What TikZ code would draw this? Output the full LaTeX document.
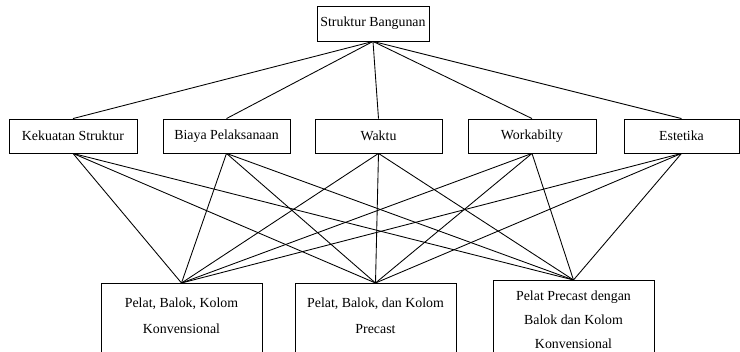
\documentclass[tikz,border=0pt]{standalone}
\usepackage{fontspec}
\setmainfont{Liberation Serif}

\begin{document}
\begin{tikzpicture}[x=0.75pt, y=-0.75pt,
    kriteria/.style={draw, line width=0.65pt, inner sep=0pt, minimum height=25.5pt, font=\fontsize{10.4}{12}\selectfont},
    alternatif/.style={draw, line width=0.65pt, inner sep=0pt, anchor=north, align=center, minimum width=120.75pt, font=\fontsize{10.4}{19.5}\selectfont},
    garis/.style={line width=0.65pt}]
    \clip (0,0) rectangle (740,352);
    % tujuan
    \node[kriteria, minimum width=84pt, minimum height=26.25pt] (struktur) at (373,23.5) {Struktur Bangunan};
    % kriteria
    \node[kriteria, minimum width=96pt] (kekuatan) at (73,136) {Kekuatan Struktur};
    \node[kriteria, minimum width=95.25pt] (biaya) at (226.5,136) {Biaya Pelaksanaan};
    \node[kriteria, minimum width=95.25pt] (waktu) at (378.5,136) {Waktu};
    \node[kriteria, minimum width=96pt] (workability) at (532,136) {Workabilty};
    \node[kriteria, minimum width=86.25pt] (estetika) at (681.5,136) {Estetika};
    % alternatif
    \node[alternatif, minimum height=54pt, text depth=6pt] (konvensional) at (181.5,283) {Pelat, Balok, Kolom\\Konvensional};
    \node[alternatif, minimum height=54pt, text depth=6pt] (precast) at (375.5,283) {Pelat, Balok, dan Kolom\\Precast};
    \node[alternatif, minimum height=58.5pt, font=\fontsize{10.4}{18}\selectfont] (campuran) at (573.5,280) {Pelat Precast dengan\\Balok dan Kolom\\Konvensional};
    % tujuan ke kriteria
    \draw[garis] (struktur.south) -- (kekuatan.north);
    \draw[garis] (struktur.south) -- (biaya.north);
    \draw[garis] (struktur.south) -- (waktu.north);
    \draw[garis] (struktur.south) -- (workability.north);
    \draw[garis] (struktur.south) -- (estetika.north);
    % kriteria ke alternatif
    \draw[garis] (kekuatan.south) -- (konvensional.north);
    \draw[garis] (kekuatan.south) -- (precast.north);
    \draw[garis] (kekuatan.south) -- (campuran.north);
    \draw[garis] (biaya.south) -- (konvensional.north);
    \draw[garis] (biaya.south) -- (precast.north);
    \draw[garis] (biaya.south) -- (campuran.north);
    \draw[garis] (waktu.south) -- (konvensional.north);
    \draw[garis] (waktu.south) -- (precast.north);
    \draw[garis] (waktu.south) -- (campuran.north);
    \draw[garis] (workability.south) -- (konvensional.north);
    \draw[garis] (workability.south) -- (precast.north);
    \draw[garis] (workability.south) -- (campuran.north);
    \draw[garis] (estetika.south) -- (konvensional.north);
    \draw[garis] (estetika.south) -- (precast.north);
    \draw[garis] (estetika.south) -- (campuran.north);
\end{tikzpicture}
\end{document}
